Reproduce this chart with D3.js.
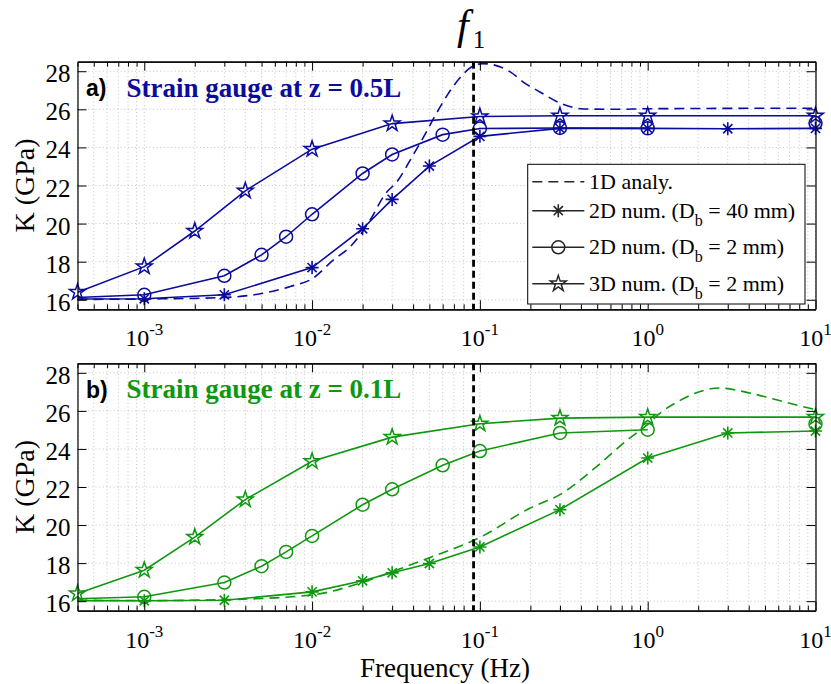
<!DOCTYPE html>
<html><head><meta charset="utf-8">
<script src="https://cdn.jsdelivr.net/npm/d3@7"></script>
<style>body{margin:0;background:#fff}</style>
</head><body><svg id="c" width="831" height="684"></svg>
<script>
// ---------- data ----------
const xDomain = [4e-4, 10];
const yDomain = [15.5, 28.5];
const xTickValues = [1e-3, 1e-2, 1e-1, 1, 10];
const xTickExps = ["-3", "-2", "-1", "0", "1"];
const yTickValues = [16, 18, 20, 22, 24, 26, 28];
const f1 = 0.0917;

const fStar = [4e-4, 1e-3, 2e-3, 4e-3, 1e-2, 3e-2, 0.1, 0.3, 1, 10];
const starTop = [16.40, 17.74, 19.61, 21.72, 23.91, 25.25, 25.62, 25.66, 25.66, 25.66];
const starBot = [16.40, 17.63, 19.37, 21.34, 23.35, 24.62, 25.32, 25.62, 25.67, 25.67];

const fCirc = [3e-4, 1e-3, 3e-3, 5e-3, 7e-3, 1e-2, 2e-2, 3e-2, 6e-2, 0.1, 0.3, 1, 3, 10];
const circTop = [16.08, 16.26, 17.26, 18.36, 19.31, 20.49, 22.63, 23.63, 24.67, 24.99, 25.02, 25.0, null, 25.28];
const circBot = [16.10, 16.23, 16.98, 17.84, 18.59, 19.43, 21.07, 21.88, 23.14, 23.89, 24.84, 25.01, null, 25.32];

const fAst = [3e-4, 1e-3, 3e-3, 1e-2, 2e-2, 3e-2, 5e-2, 0.1, 0.3, 1, 3, 10];
const astTop = [16.04, 16.05, 16.26, 17.69, 19.73, 21.27, 23.02, 24.58, 25.0, 25.0, 24.98, 25.0];
const astBot = [16.03, 16.02, 16.05, 16.49, 17.07, 17.49, 17.98, 18.85, 20.81, 23.52, 24.84, 24.94];

const fAnaTop = [4e-4, 1e-3, 3e-3, 5e-3, 0.00743, 0.01, 0.0134, 0.0169, 0.0199, 0.0222, 0.027, 0.0327, 0.0394, 0.0462, 0.054, 0.0645, 0.0752, 0.09, 0.1043, 0.1328, 0.1524, 0.187, 0.228, 0.306, 0.414, 0.655, 1, 10];
const anaTop = [16.02, 16.04, 16.12, 16.33, 16.70, 17.1, 18.09, 18.79, 19.56, 20.19, 21.5, 22.3, 23.5, 24.55, 25.65, 26.8, 27.6, 28.25, 28.4, 28.22, 27.95, 27.35, 26.91, 26.3, 26.02, 26.0, 26.03, 26.06];

const fAnaBot = [4e-4, 1e-3, 3e-3, 1e-2, 2e-2, 3e-2, 5e-2, 0.1, 0.2, 0.3, 0.5, 0.75, 1, 1.2, 1.56, 2.05, 2.69, 3.78, 5.63, 8.1, 10];
const anaBot = [16.05, 16.03, 16.08, 16.33, 17.0, 17.55, 18.28, 19.35, 20.9, 21.6, 23.1, 24.45, 25.29, 25.92, 26.55, 27.02, 27.2, 27.0, 26.62, 26.26, 26.07];

const panelTags = ["a)", "b)"];
const panelTitles = ["Strain gauge at z = 0.5L", "Strain gauge at z = 0.1L"];
const legendEntries = [
  {kind: "dash", pre: "1D analy.", sub: "", post: ""},
  {kind: "ast", pre: "2D num. (D", sub: "b", post: " = 40 mm)"},
  {kind: "circ", pre: "2D num. (D", sub: "b", post: " = 2 mm)"},
  {kind: "star", pre: "3D num. (D", sub: "b", post: " = 2 mm)"}
];

// ---------- layout / style ----------
const L = 77.5, R = 815.5;
const SERIF = "Liberation Serif, Times New Roman, serif";
const SANS = "Liberation Sans, Arial, sans-serif";
const panels = [
  {top: 61.7, bottom: 309.3, color: "#0b0b9c", star: starTop, circ: circTop, ast: astTop, fAna: fAnaTop, ana: anaTop},
  {top: 363.3, bottom: 610.7, color: "#0f970f", star: starBot, circ: circBot, ast: astBot, fAna: fAnaBot, ana: anaBot}
];

const svg = d3.select("#c");
const zip = (fs, vs) => fs.map((f, i) => ({f, v: vs[i]}));

const starPath = d3.symbol(d3.symbolStar, 78)();
function astPath(r) {
  const a = r * 0.7071;
  return `M${-r},0H${r}M0,${-r}V${r}M${-a},${-a}L${a},${a}M${-a},${a}L${a},${-a}`;
}
function drawMarker(sel, kind, color) {
  if (kind === "circ") sel.append("circle").attr("r", 6.5).attr("fill", "none").attr("stroke", color).attr("stroke-width", 1.5);
  else if (kind === "star") sel.append("path").attr("d", starPath).attr("fill", "none").attr("stroke", color).attr("stroke-width", 1.5).attr("stroke-linejoin", "miter");
  else if (kind === "ast") sel.append("path").attr("d", astPath(6.5)).attr("fill", "none").attr("stroke", color).attr("stroke-width", 1.6);
}

panels.forEach((p, pi) => {
  const x = d3.scaleLog().domain(xDomain).range([L, R]);
  const y = d3.scaleLinear().domain(yDomain).range([p.bottom, p.top]);
  const g = svg.append("g");

  // grid
  const allX = x.ticks();
  g.append("g").selectAll("line").data(allX).join("line")
    .attr("x1", d => x(d)).attr("x2", d => x(d)).attr("y1", p.top).attr("y2", p.bottom)
    .attr("stroke", "#c4c4c4").attr("stroke-width", 1).attr("stroke-dasharray", "1,2.6");
  g.append("g").selectAll("line").data(yTickValues).join("line")
    .attr("x1", L).attr("x2", R).attr("y1", d => y(d)).attr("y2", d => y(d))
    .attr("stroke", "#c4c4c4").attr("stroke-width", 1).attr("stroke-dasharray", "1,2.6");

  // clip
  const cid = "clip" + pi;
  svg.append("clipPath").attr("id", cid).append("rect")
    .attr("x", L).attr("y", p.top).attr("width", R - L).attr("height", p.bottom - p.top);

  const lineLin = d3.line().defined(d => d.v != null).x(d => x(d.f)).y(d => y(d.v));
  const lineCurve = d3.line().x(d => x(d.f)).y(d => y(d.v)).curve(d3.curveMonotoneX);

  const lg = g.append("g").attr("clip-path", `url(#${cid})`);
  lg.append("path").attr("d", lineCurve(zip(p.fAna, p.ana))).attr("fill", "none")
    .attr("stroke", p.color).attr("stroke-width", 1.6).attr("stroke-dasharray", "10,6");
  const series = [
    {kind: "ast", data: zip(fAst, p.ast)},
    {kind: "circ", data: zip(fCirc, p.circ)},
    {kind: "star", data: zip(fStar, p.star)}
  ];
  series.forEach(s => {
    lg.append("path").attr("d", lineLin(s.data)).attr("fill", "none")
      .attr("stroke", p.color).attr("stroke-width", 1.6);
  });
  series.forEach(s => {
    g.append("g").selectAll("g").data(s.data.filter(d => d.v != null && d.f >= xDomain[0])).join("g")
      .attr("transform", d => `translate(${x(d.f)},${y(d.v)})`)
      .each(function () { drawMarker(d3.select(this), s.kind, p.color); });
  });

  // f1 line
  g.append("line").attr("x1", x(f1)).attr("x2", x(f1)).attr("y1", p.top).attr("y2", p.bottom)
    .attr("stroke", "#000").attr("stroke-width", 2.8).attr("stroke-dasharray", "7,4");

  // axes
  const minors = allX.filter(d => !xTickValues.some(t => Math.abs(t - d) / t < 1e-9));
  const styleAxis = a => { a.selectAll("path.domain").attr("stroke", "#000").attr("stroke-width", 1.2); a.selectAll(".tick line").attr("stroke", "#000").attr("stroke-width", 1); };
  g.append("g").attr("transform", `translate(0,${p.bottom})`)
    .call(d3.axisBottom(x).tickValues(xTickValues).tickSize(-9).tickSizeOuter(0).tickFormat("")).call(styleAxis);
  g.append("g").attr("transform", `translate(0,${p.bottom})`)
    .call(d3.axisBottom(x).tickValues(minors).tickSize(-5).tickSizeOuter(0).tickFormat("")).call(styleAxis);
  g.append("g").attr("transform", `translate(0,${p.top})`)
    .call(d3.axisTop(x).tickValues(xTickValues).tickSize(-9).tickSizeOuter(0).tickFormat("")).call(styleAxis);
  g.append("g").attr("transform", `translate(0,${p.top})`)
    .call(d3.axisTop(x).tickValues(minors).tickSize(-5).tickSizeOuter(0).tickFormat("")).call(styleAxis);
  const ay = g.append("g").attr("transform", `translate(${L},0)`)
    .call(d3.axisLeft(y).tickValues(yTickValues).tickSize(-9).tickSizeOuter(0).tickPadding(7)).call(styleAxis);
  ay.selectAll("text").attr("font-family", SERIF).attr("font-size", 25).attr("fill", "#000").attr("dy", "0.42em");
  g.append("g").attr("transform", `translate(${R},0)`)
    .call(d3.axisRight(y).tickValues(yTickValues).tickSize(-9).tickSizeOuter(0).tickFormat("")).call(styleAxis);

  // x tick labels with superscripts
  xTickValues.forEach((t, i) => {
    const tx = g.append("text").attr("x", x(t)).attr("y", p.bottom + 37)
      .attr("text-anchor", "middle").attr("font-family", SERIF).attr("font-size", 24).attr("fill", "#000");
    tx.append("tspan").text("10");
    tx.append("tspan").attr("dy", -11).attr("font-size", 17).text(xTickExps[i]);
  });

  // y label
  g.append("text").attr("transform", `translate(34,${(p.top + p.bottom) / 2}) rotate(-90)`)
    .attr("text-anchor", "middle").attr("font-family", SERIF).attr("font-size", 28).attr("fill", "#000")
    .text("K (GPa)");

  // panel title
  g.append("text").attr("x", 86).attr("y", p.top + 34.5).attr("font-family", SANS).attr("font-weight", "bold")
    .attr("font-size", 23).attr("fill", "#000").text(panelTags[pi]);
  g.append("text").attr("x", 126.5).attr("y", p.top + 35).attr("font-family", SERIF).attr("font-weight", "bold")
    .attr("font-size", 27).attr("fill", p.color).text(panelTitles[pi]);

  // legend in top panel
  if (pi === 0) {
    const lgd = g.append("g");
    lgd.append("rect").attr("x", 527.7).attr("y", 164.3).attr("width", 277.3).attr("height", 139.7)
      .attr("fill", "#fff").attr("stroke", "#000").attr("stroke-width", 1);
    const rowY = [181.7, 210.7, 247.3, 283.7];
    const lc = "#262626";
    legendEntries.forEach((e, i) => {
      const ry = rowY[i];
      const ln = lgd.append("line").attr("x1", 532.3).attr("x2", 584.3).attr("y1", ry).attr("y2", ry)
        .attr("stroke", lc).attr("stroke-width", 1.6);
      if (e.kind === "dash") ln.attr("stroke-dasharray", "10,6");
      else drawMarker(lgd.append("g").attr("transform", `translate(558.3,${ry})`), e.kind, lc);
      const t = lgd.append("text").attr("x", 589).attr("y", ry + 7).attr("font-family", SERIF)
        .attr("font-size", 22).attr("fill", "#000");
      t.append("tspan").text(e.pre);
      if (e.sub) {
        t.append("tspan").attr("dy", 8).attr("font-size", 16).text(e.sub);
        t.append("tspan").attr("dy", -8).text(e.post);
      }
    });
  }
});

// f1 label
const fl = svg.append("text").attr("x", 457).attr("y", 39).attr("font-family", SERIF).attr("fill", "#000");
fl.append("tspan").attr("font-style", "italic").attr("font-size", 42).text("f");
fl.append("tspan").attr("dx", 4).attr("dy", 9).attr("font-size", 25).text("1");

// x label
svg.append("text").attr("x", 445).attr("y", 677).attr("text-anchor", "middle")
  .attr("font-family", SERIF).attr("font-size", 27).attr("fill", "#000").text("Frequency (Hz)");
</script>
</body></html>
